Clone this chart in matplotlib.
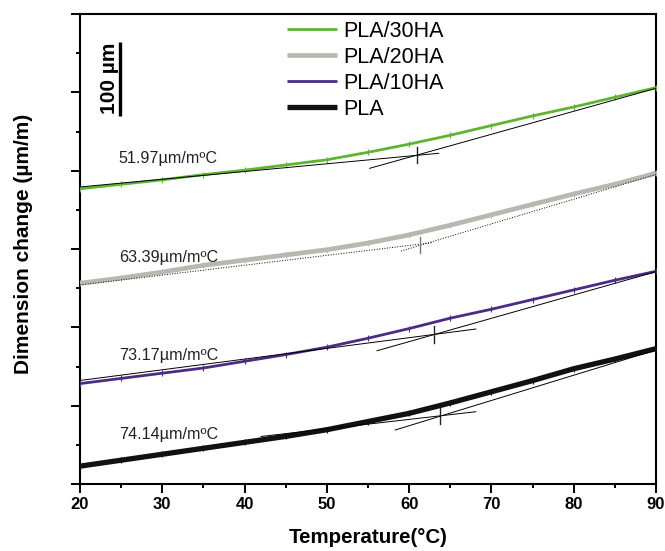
import numpy as np
import matplotlib
matplotlib.use("Agg")
import matplotlib.pyplot as plt

plt.rcParams['font.family'] = ['Liberation Sans', 'DejaVu Sans']

# Temperature grid (°C)
temperature = [20, 25, 30, 35, 40, 45, 50, 55, 60, 65, 70, 75, 80, 85, 90]

# Dimension change curves (µm/m, curves offset vertically)
pla_30ha = [397, 403, 409, 416, 422, 429, 436, 446, 457, 469, 482, 495, 507, 520, 533]
pla_20ha = [270, 277, 285, 294, 301, 308, 315, 324, 335, 348, 362, 376, 390, 403, 418]
pla_10ha = [135, 142, 149, 156, 165, 174, 184, 196, 209, 223, 235, 248, 261, 274, 286]
pla      = [24, 32, 40, 48, 56, 64, 73, 84, 95, 109, 124, 139, 155, 168, 182]

series_names = ["PLA/30HA", "PLA/20HA", "PLA/10HA", "PLA"]
series_values = [pla_30ha, pla_20ha, pla_10ha, pla]

# Tangent lines below/above the transition: ((T1, y1), (T2, y2))
tangent_low = [((20, 399.4), (63.6, 444.7)),
               ((20, 267.6), (62.8, 324.5)),
               ((20, 139.2), (68.1, 208.4)),
               ((42, 63.9), (68.1, 97.2))]
tangent_high = [((55.2, 424.5), (90, 532.1)),
                ((59.0, 313.2), (90, 416.2)),
                ((56.1, 179.2), (90, 285.5)),
                ((58.3, 72.6), (90, 180.2))]
transition_temp = [60.9, 61.3, 63.0, 63.7]

# Expansion coefficients written next to each curve
cte_labels = ["51.97µm/mºC", "63.39µm/mºC", "73.17µm/mºC", "74.14µm/mºC"]
cte_label_y = [438, 304, 173, 66]

scale_bar_len = 100  # µm

colors = ["#5db531", "#bab7b1", "#4a2b86", "#111111"]
widths = [2.0, 3.4, 2.0, 3.8]
tangent_styles = ["-", ":", "-", "-"]
cross_colors = ["#222222", "#777777", "#222222", "#222222"]

YMAX = 632

fig = plt.figure(figsize=(6.65, 5.51), dpi=100)
ax = fig.add_axes([80 / 665, 67 / 551, 576 / 665, 470 / 551])

for name, vals, c, lw in zip(series_names, series_values, colors, widths):
    ax.plot(temperature, vals, color=c, lw=lw, label=name,
            marker="|", markersize=5, markeredgewidth=0.8,
            solid_capstyle="butt", zorder=3)

for lo, hi, tg, ls, cc in zip(tangent_low, tangent_high, transition_temp,
                              tangent_styles, cross_colors):
    (a1, b1), (a2, b2) = lo
    (c1, d1), (c2, d2) = hi
    ax.plot([a1, a2], [b1, b2], color="black", lw=0.7, ls=ls, zorder=4)
    ax.plot([c1, c2], [d1, d2], color="black", lw=0.7, ls=ls, zorder=4)
    # intersection height of the two tangents at the transition temperature
    ylo = b1 + (b2 - b1) * (tg - a1) / (a2 - a1)
    yhi = d1 + (d2 - d1) * (tg - c1) / (c2 - c1)
    yc = 0.5 * (ylo + yhi)
    ax.plot([tg, tg], [yc - 11, yc + 11], color=cc, lw=1.0, zorder=5)

for txt, yy in zip(cte_labels, cte_label_y):
    ax.text(24.7, yy, txt, fontsize=11.6, ha="left", va="center", color="#222222")

# scale bar
ax.plot([24.9, 24.9], [495, 495 + scale_bar_len], color="black", lw=2.4,
        solid_capstyle="butt")
ax.text(23.55, 495 + scale_bar_len / 2, "100 µm", rotation=90, fontsize=15,
        fontweight="bold", ha="center", va="center")

ax.set_xlim(20, 90)
ax.set_ylim(0, YMAX)
ax.set_xticks(np.arange(20, 91, 10))
ax.set_xticks(np.arange(25, 90, 10), minor=True)
yt = np.linspace(0, YMAX, 13)
ax.set_yticks(yt[::2])
ax.set_yticks(yt[1::2], minor=True)
ax.set_yticklabels([])

ax.tick_params(axis="x", which="major", labelsize=12, length=6.5, width=1.4,
               pad=3, direction="out")
for lbl in ax.get_xticklabels():
    lbl.set_fontweight("bold")
ax.tick_params(axis="both", which="minor", length=3, width=1.4, direction="out")
ax.tick_params(axis="y", which="major", length=6.5, width=1.4, direction="out")
for s in ax.spines.values():
    s.set_linewidth(1.5)

ax.set_xlabel("Temperature(°C)", fontsize=14.8, fontweight="bold")
ax.xaxis.set_label_coords(0.5, -0.094)
ax.set_ylabel("Dimension change (µm/m)", fontsize=15, fontweight="bold")
ax.yaxis.set_label_coords(-0.082, 0.51)

leg = ax.legend(loc="upper left", bbox_to_anchor=(0.345, 1.004), frameon=False,
                fontsize=15.5, handlelength=2.3, handletextpad=0.3,
                labelspacing=0.23, borderaxespad=0)
for h in leg.get_lines():
    h.set_marker("")

fig.savefig("out.png", dpi=100)
